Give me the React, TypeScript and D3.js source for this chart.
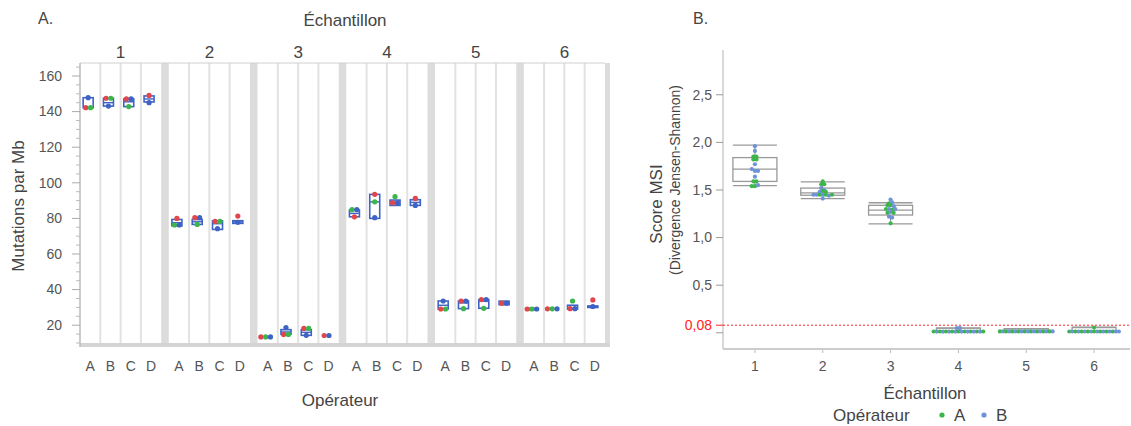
import * as d3 from 'd3'

// ---- panel A data (mutations per Mb) ----
const samples = ['1', '2', '3', '4', '5', '6']
const operators = ['A', 'B', 'C', 'D']
// one value per sample x operator, in order S1A,S1B,S1C,S1D,S2A,...
const mutRed = [142.2, 147.5, 147.1, 149.1, 80.0, 80.4, 78.3, 81.3, 13.4, 14.8, 18.2, 14.2, 80.9, 93.5, 88.8, 91.2, 29.1, 33.6, 34.4, 32.4, 29.1, 29.2, 29.3, 34.2]
const mutGreen = [142.2, 147.5, 142.8, null, 76.3, 76.6, 78.3, null, 13.4, 14.8, 18.2, null, 84.9, 89.3, 92.2, null, 29.1, 29.3, 29.5, null, 29.1, 29.2, 33.6, null]
const mutBlue = [147.8, 143.1, 147.1, 145.0, 76.3, 80.4, 74.2, 77.8, 13.4, 18.7, 14.3, 14.2, 84.9, 80.4, 88.8, 87.3, 33.6, 33.6, 34.4, 32.4, 29.1, 29.2, 29.3, 30.5]
const boxLo = [142.2, 143.1, 142.8, 145.4, 75.8, 76.6, 73.8, 77.2, 13.4, 14.9, 14.3, 14.2, 80.9, 80.0, 87.3, 87.3, 29.1, 29.3, 29.5, 31.5, 28.7, 29.2, 29.0, 30.2]
const boxMed = [142.2, 145.0, 145.5, 147.1, 77.6, 78.1, 77.0, 78.0, 13.4, 16.2, 16.0, 14.2, 82.8, 89.3, 88.8, 89.0, 31.2, 32.5, 33.5, 32.4, 29.1, 29.2, 29.3, 30.5]
const boxHi = [147.8, 147.5, 147.1, 148.8, 79.4, 79.4, 78.6, 78.7, 13.4, 17.5, 17.5, 14.2, 84.7, 93.5, 90.3, 90.5, 33.6, 33.6, 34.4, 33.5, 29.5, 29.2, 31.2, 30.8]
const mutTicks = [20, 40, 60, 80, 100, 120, 140, 160]

// ---- panel B data (score MSI) ----
const msiA = [
  [1.85, 1.85, 1.82, 1.82, 1.59, 1.59, 1.54, 1.54],
  [1.59, 1.56, 1.56, 1.49, 1.48, 1.45, 1.45, 1.45],
  [1.36, 1.34, 1.34, 1.30, 1.29, 1.26, 1.26, 1.15],
  [0.014, 0.014, 0.014, 0.014, 0.014, 0.014, 0.014, 0.014, 0.014],
  [0.015, 0.015, 0.015, 0.015, 0.015, 0.015, 0.015, 0.015, 0.015],
  [0.014, 0.014, 0.014, 0.014, 0.014, 0.014, 0.014, 0.014, 0.055],
]
const msiB = [
  [1.96, 1.91, 1.77, 1.72, 1.70, 1.70, 1.64, 1.55],
  [1.52, 1.50, 1.48, 1.45, 1.45, 1.45, 1.44, 1.41],
  [1.40, 1.37, 1.33, 1.30, 1.30, 1.27, 1.22, 1.21],
  [0.013, 0.013, 0.013, 0.013, 0.013, 0.013, 0.013, 0.013, 0.05, 0.05],
  [0.015, 0.015, 0.015, 0.015, 0.015, 0.015, 0.015, 0.015, 0.015],
  [0.014, 0.014, 0.014, 0.014, 0.014, 0.014, 0.014, 0.014, 0.014],
]
const msiWLo = [1.545, 1.41, 1.145, 0.012, 0.014, 0.013]
const msiQ1 = [1.59, 1.445, 1.237, 0.015, 0.016, 0.015]
const msiMed = [1.72, 1.47, 1.289, 0.02, 0.02, 0.02]
const msiQ3 = [1.84, 1.52, 1.339, 0.05, 0.043, 0.055]
const msiWHi = [1.97, 1.585, 1.366, 0.05, 0.045, 0.06]
const msiTicks = [0.5, 1.0, 1.5, 2.0, 2.5]
const threshold = 0.08

const font = '"Liberation Sans", Arial, Helvetica, sans-serif'
const txt = '#555'
const RED = '#e0474c'
const GREEN = '#3cb54a'
const BLUE = '#3f63c4'
const LBLUE = '#6f93d8'

// spread points that sit on the same level side by side
function dodge(pts, y, rowPx, step) {
  const sorted = pts.map((p, i) => ({ ...p, i })).sort((a, b) => b.v - a.v || a.i - b.i)
  const rows = []
  sorted.forEach((p) => {
    const last = rows[rows.length - 1]
    if (last && Math.abs(y(last[0].v) - y(p.v)) < rowPx) last.push(p)
    else rows.push([p])
  })
  const out = []
  rows.forEach((r) => {
    r.sort((a, b) => a.i - b.i)
    r.forEach((p, k) => out.push({ ...p, dx: (k - (r.length - 1) / 2) * step }))
  })
  return out
}

function PanelA() {
  const left = 80, right = 605, top = 63, bottom = 343
  const y = d3.scaleLinear().domain([10, 167.3]).range([bottom, top])
  const xs = d3.scaleBand().domain(samples).range([left, right]).paddingInner(0.085)
  const xo = d3.scaleBand().domain(operators).range([0, xs.bandwidth()])
  const minor = d3.range(10, 166, 5).filter((v) => v % 20 !== 0)
  const bw = 10
  return (
    <g fontFamily={font}>
      <text x={38} y={24} fontSize={16} fill="#444">A.</text>
      <text x={345} y={26} fontSize={17} fill="#444" textAnchor="middle">Échantillon</text>
      <rect x={left} y={top} width={right - left} height={bottom - top} fill="#fff" />
      {samples.slice(1).map((s) => (
        <rect key={s} x={xs(s) - xs.step() * 0.085} y={top} width={xs.step() * 0.085} height={bottom - top} fill="#dcdcdc" />
      ))}
      <rect x={right} y={top} width={5} height={bottom - top + 4} fill="#dcdcdc" />
      {samples.map((s) => (
        <g key={s}>
          <text x={xs(s) + xs.bandwidth() / 2} y={58} fontSize={17} fill="#444" textAnchor="middle">{s}</text>
          {operators.slice(1).map((o) => (
            <line key={o} x1={xs(s) + xo(o)} x2={xs(s) + xo(o)} y1={top} y2={bottom} stroke="#e2e2e2" strokeWidth={2} />
          ))}
          {operators.map((o) => (
            <text key={o} x={xs(s) + xo(o) + xo.bandwidth() / 2} y={371} fontSize={14} fill={txt} textAnchor="middle">{o}</text>
          ))}
        </g>
      ))}
      <line x1={left} x2={right} y1={top} y2={top} stroke="#d0d0d0" />
      <rect x={left} y={bottom} width={right - left + 5} height={4} fill="#d4d4d4" />
      <line x1={left} x2={left} y1={top} y2={bottom + 4} stroke="#bbb" strokeWidth={1.5} />
      {mutTicks.map((t) => (
        <g key={t}>
          <line x1={72} x2={left} y1={y(t)} y2={y(t)} stroke="#aaa" />
          <text x={62} y={y(t)} dy="0.35em" fontSize={14} fill={txt} textAnchor="end">{t}</text>
        </g>
      ))}
      {minor.map((t) => (
        <line key={t} x1={76} x2={left} y1={y(t)} y2={y(t)} stroke="#bbb" />
      ))}
      <text transform={`translate(24,206) rotate(-90)`} fontSize={17} fill="#444" textAnchor="middle">Mutations par Mb</text>
      <text x={340} y={406} fontSize={17} fill="#444" textAnchor="middle">Opérateur</text>
      {samples.map((s, si) =>
        operators.map((o, oi) => {
          const k = si * 4 + oi
          const cx = xs(s) + xo(o) + xo.bandwidth() / 2 - 2
          const pts = [
            { v: mutRed[k], c: RED },
            { v: mutGreen[k], c: GREEN },
            { v: mutBlue[k], c: BLUE },
          ].filter((p) => p.v != null)
          const placed = dodge(pts, y, 3, 4.8)
          const hasBox = boxHi[k] - boxLo[k] > 0.1
          return (
            <g key={k}>
              {hasBox && (
                <>
                  <rect x={cx - bw / 2} y={y(boxHi[k])} width={bw} height={Math.max(y(boxLo[k]) - y(boxHi[k]), 1.5)} fill="#fff" stroke={BLUE} strokeWidth={1.6} />
                  <line x1={cx - bw / 2} x2={cx + bw / 2} y1={y(boxMed[k])} y2={y(boxMed[k])} stroke={BLUE} strokeWidth={1.4} />
                </>
              )}
              {placed.map((p, j) => (
                <circle key={j} cx={cx + p.dx} cy={y(p.v)} r={2.6} fill={p.c} />
              ))}
            </g>
          )
        })
      )}
    </g>
  )
}

function PanelB() {
  const left = 723, right = 1130, top = 50, bottom = 349
  const y = d3.scaleLinear().domain([-0.17, 2.97]).range([bottom, top])
  const x = d3.scaleBand().domain(samples).range([721, 1128])
  const bw = 44
  return (
    <g fontFamily={font}>
      <text x={693} y={24} fontSize={16} fill="#444">B.</text>
      <line x1={left} x2={left} y1={top} y2={bottom} stroke="#ccc" strokeWidth={1.5} />
      <line x1={left} x2={right} y1={bottom} y2={bottom} stroke="#ccc" strokeWidth={2} />
      {msiTicks.map((t) => (
        <g key={t}>
          <line x1={716} x2={left} y1={y(t)} y2={y(t)} stroke="#999" />
          <text x={712} y={y(t)} dy="0.35em" fontSize={14} fill={txt} textAnchor="end">{d3.format('.1f')(t).replace('.', ',')}</text>
        </g>
      ))}
      <line x1={716} x2={left} y1={y(0)} y2={y(0)} stroke="#999" />
      <line x1={716} x2={left} y1={y(threshold)} y2={y(threshold)} stroke="#f22" />
      <text x={712} y={y(threshold)} dy="0.35em" fontSize={14} fill="#f22" textAnchor="end">{String(threshold).replace('.', ',')}</text>
      <line x1={left} x2={right} y1={y(threshold)} y2={y(threshold)} stroke="#f22" strokeDasharray="2,2" />
      <text transform={`translate(656,204) rotate(-90)`} fontSize={17} fill="#444" textAnchor="middle" dominantBaseline="central">Score MSI</text>
      <text transform={`translate(675,180) rotate(-90)`} fontSize={14} fill="#444" textAnchor="middle" dominantBaseline="central">(Divergence Jensen-Shannon)</text>
      {samples.map((s, i) => {
        const cx = x(s) + x.bandwidth() / 2
        // interleave operators so rows alternate colours
        const inter = d3.merge(d3.range(Math.max(msiA[i].length, msiB[i].length)).map((k) =>
          [msiA[i][k] != null ? { v: msiA[i][k], c: GREEN } : null, msiB[i][k] != null ? { v: msiB[i][k], c: LBLUE } : null].filter(Boolean)))
        const placed = dodge(inter, y, 2.6, 3.1)
        return (
          <g key={s}>
            <line x1={cx} x2={cx} y1={y(msiWHi[i])} y2={y(msiQ3[i])} stroke="#888" />
            <line x1={cx} x2={cx} y1={y(msiQ1[i])} y2={y(msiWLo[i])} stroke="#888" />
            <line x1={cx - bw / 2} x2={cx + bw / 2} y1={y(msiWHi[i])} y2={y(msiWHi[i])} stroke="#999" strokeWidth={1.3} />
            <line x1={cx - bw / 2} x2={cx + bw / 2} y1={y(msiWLo[i])} y2={y(msiWLo[i])} stroke="#999" strokeWidth={1.3} />
            <rect x={cx - bw / 2} y={y(msiQ3[i])} width={bw} height={y(msiQ1[i]) - y(msiQ3[i])} fill="none" stroke="#999" strokeWidth={1.3} />
            <line x1={cx - bw / 2} x2={cx + bw / 2} y1={y(msiMed[i])} y2={y(msiMed[i])} stroke="#999" strokeWidth={1.3} />
            {placed.map((p, j) => (
              <circle key={j} cx={cx + p.dx} cy={y(p.v)} r={2.1} fill={p.c} />
            ))}
            <line x1={cx} x2={cx} y1={bottom + 1} y2={bottom + 4} stroke="#bbb" />
            <text x={cx} y={371} fontSize={14} fill={txt} textAnchor="middle">{s}</text>
          </g>
        )
      })}
      <text x={925} y={399} fontSize={17} fill="#444" textAnchor="middle">Échantillon</text>
      <text x={833} y={421} fontSize={17} fill="#444">Opérateur</text>
      <circle cx={942} cy={415} r={2.6} fill={GREEN} />
      <text x={954} y={421} fontSize={17} fill="#444">A</text>
      <circle cx={984} cy={415} r={2.6} fill={LBLUE} />
      <text x={996} y={421} fontSize={17} fill="#444">B</text>
    </g>
  )
}

export default function App() {
  return (
    <svg width={1131} height={426} style={{ position: 'absolute', left: 0, top: 0, background: '#fff' }}>
      <PanelA />
      <PanelB />
    </svg>
  )
}
